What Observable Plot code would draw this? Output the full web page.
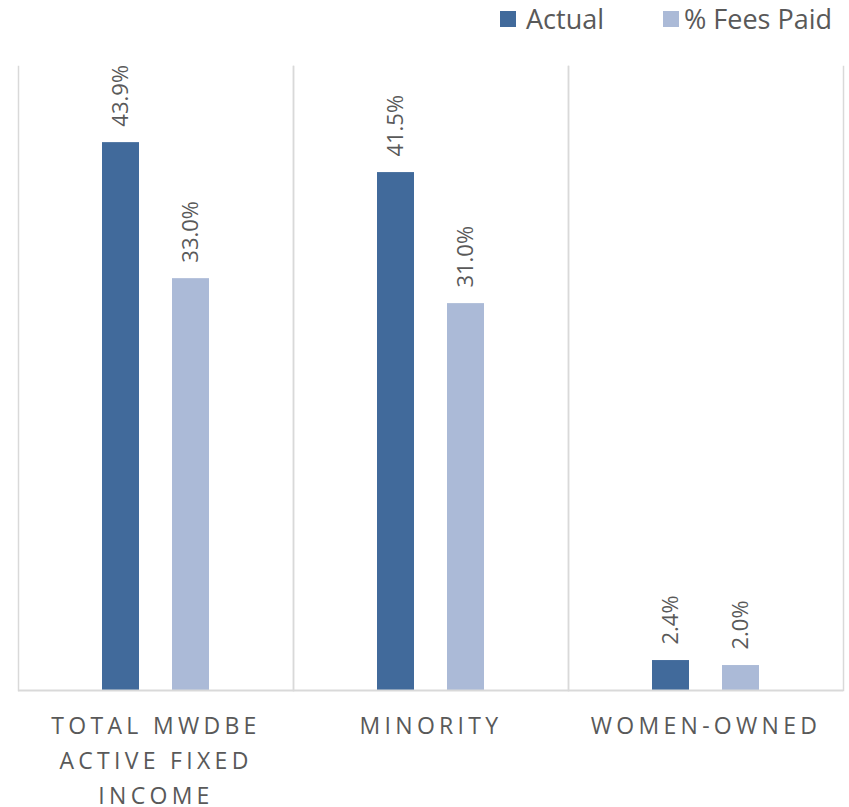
<!DOCTYPE html>
<html><head><meta charset="utf-8">
<script src="https://cdn.jsdelivr.net/npm/d3@7"></script>
<script src="https://cdn.jsdelivr.net/npm/@observablehq/plot@0.6"></script>
<style>
body{margin:0;background:#fff;}
#wrap{position:relative;width:849px;height:807px;overflow:hidden;}
.lg{position:absolute;font-family:"Open Sans",sans-serif;font-size:27px;line-height:27px;color:#595959;white-space:nowrap;}
.sw{position:absolute;width:16px;height:16px;}
g[aria-label="fx-axis tick label"] text{letter-spacing:4.3px;}
</style>
</head><body>
<div id="wrap"></div>
<script>
const categories = ["TOTAL MWDBE ACTIVE FIXED INCOME", "MINORITY", "WOMEN-OWNED"];
const categoryLabels = ["TOTAL MWDBE\nACTIVE FIXED\nINCOME", "MINORITY", "WOMEN-OWNED"];
const series = ["Actual", "% Fees Paid"];
const actual = [43.9, 41.5, 2.4];
const feesPaid = [33.0, 31.0, 2.0];
const colors = ["#416A9B", "#ABBAD7"];

const rows = [];
categories.forEach((c, i) => {
  rows.push({category: c, series: series[0], value: actual[i]});
  rows.push({category: c, series: series[1], value: feesPaid[i]});
});
const labelOf = new Map(categories.map((c, i) => [c, categoryLabels[i]]));

const chart = Plot.plot({
  width: 849, height: 807,
  marginTop: 66, marginBottom: 117, marginLeft: 18, marginRight: 6,
  style: {fontFamily: "Open Sans", color: "#595959", background: "#fff"},
  fx: {domain: categories, padding: 0, label: null},
  x: {domain: series, paddingInner: 0.465, paddingOuter: 1.17, axis: null},
  y: {domain: [0, 50], axis: null},
  color: {domain: series, range: colors},
  marks: [
    Plot.frame({anchor: "left", stroke: "#d9d9d9", strokeWidth: 1.5}),
    Plot.frame({anchor: "right", stroke: "#d9d9d9", strokeWidth: 1.5}),
    Plot.barY(rows, {fx: "category", x: "series", y: "value", fill: "series"}),
    Plot.ruleY([0], {stroke: "#d9d9d9", strokeWidth: 2}),
    Plot.text(rows, {fx: "category", x: "series", y: "value",
      text: d => d.value.toFixed(1) + "%", rotate: -90, textAnchor: "start",
      dy: -16, fill: "#595959", fontSize: 22, fontFamily: "Open Sans"}),
    Plot.axisFx({anchor: "bottom", tickSize: 0, tickPadding: 18, label: null,
      tickFormat: c => labelOf.get(c), fontSize: 23, lineHeight: 1.53,
      fill: "#595959", fontFamily: "Open Sans"})
  ]
});
const wrap = document.getElementById("wrap");
wrap.appendChild(chart);

// legend
const legendX = [[500, 526], [663, 684]];
series.forEach((s, i) => {
  const sw = document.createElement("div");
  sw.className = "sw";
  sw.style.left = legendX[i][0] + "px";
  sw.style.top = "11px";
  sw.style.background = colors[i];
  wrap.appendChild(sw);
  const t = document.createElement("div");
  t.className = "lg";
  t.style.left = legendX[i][1] + "px";
  t.style.top = "5px";
  t.textContent = s;
  wrap.appendChild(t);
});
</script>
</body></html>
